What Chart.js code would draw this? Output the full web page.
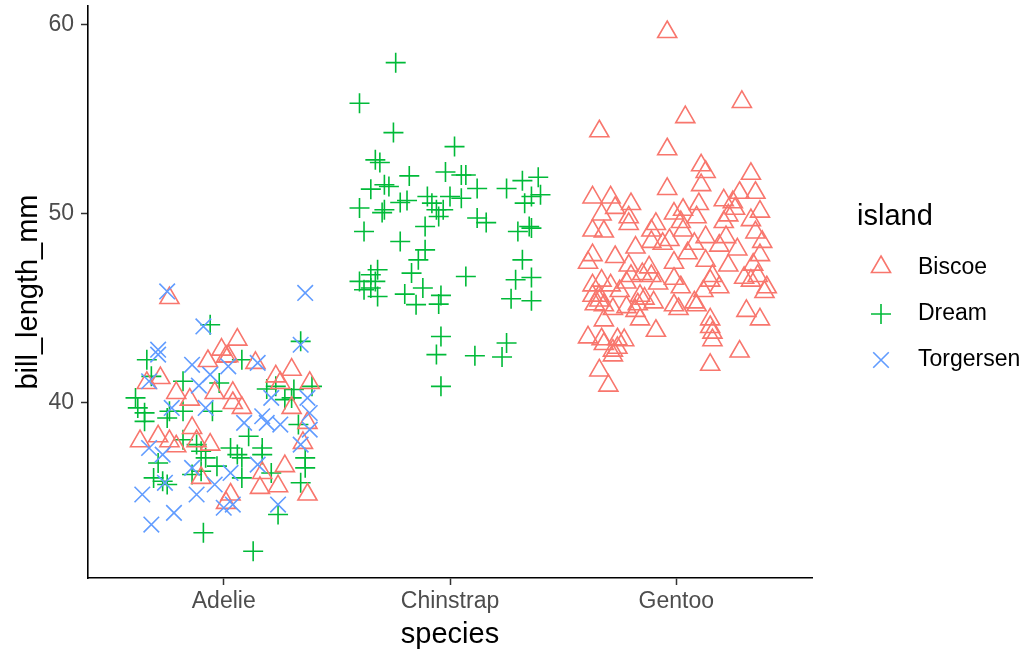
<!DOCTYPE html>
<html>
<head>
<meta charset="utf-8">
<script src="https://cdn.jsdelivr.net/npm/chart.js@4.4.1/dist/chart.umd.min.js"></script>
<style>
  html, body { margin: 0; padding: 0; background: #fff; }
  canvas { display: block; }
</style>
</head>
<body>
<canvas id="chart" width="1030" height="653"></canvas>
<script>
const species = ['Adelie', 'Chinstrap', 'Gentoo'];
const islands = ['Biscoe', 'Dream', 'Torgersen'];
const yTicks = [40, 50, 60];

// [jitter offset from species position, bill_length_mm]
const adelieBiscoe = [
  [-0.24,45.53],[-0.01,42.8],[-0.28,41.3],[-0.34,41.04],[-0.21,40.51],[-0.15,40.16],[-0.04,40.51],
  [0.06,43.33],[0.14,42.1],[0.01,42.43],[0.23,41.39],[0.30,41.74],[0.38,41.04],[0.25,41.04],
  [0.04,40.51],[0.04,39.98],[0.08,39.72],[0.30,39.72],[-0.37,37.96],[-0.29,38.22],[-0.24,37.96],
  [-0.21,37.69],[-0.14,38.66],[-0.12,37.96],[-0.06,37.78],[-0.10,36.02],[0.01,34.7],[0.37,38.93],
  [0.35,37.87],[0.27,36.64],[0.17,36.28],[0.16,35.49],[0.24,35.58],[0.37,35.14],[0.03,35.14],
  [0.02,42.45],[-0.07,42.2]
];
const adelieDream = [
  [-0.06,44.12],[-0.34,42.27],[-0.32,41.39],[-0.18,41.13],[-0.02,41.04],[-0.39,40.25],[-0.38,39.72],
  [-0.35,39.46],[-0.24,39.54],[-0.18,39.54],[-0.05,39.54],[0.34,43.24],[0.08,42.27],[0.39,40.86],
  [0.23,40.86],[0.19,40.72],[0.31,40.69],[0.30,40.25],[0.27,40.16],[-0.35,39.01],[-0.25,39.19],
  [-0.18,38.04],[-0.12,37.78],[-0.10,37.43],[-0.08,37.08],[-0.03,36.64],[-0.29,36.81],[-0.31,36.02],
  [-0.27,35.84],[-0.25,35.67],[-0.14,36.2],[-0.10,36.37],[-0.09,33.12],[0.33,38.84],[0.11,38.22],
  [0.03,37.6],[0.06,37.25],[0.08,37.08],[0.17,37.6],[0.17,37.25],[0.36,37.08],[0.36,36.55],
  [0.21,36.28],[0.08,36.02],[0.34,35.76],[0.24,34.08],[0.13,32.14]
];
const adelieTorgersen = [
  [-0.25,45.88],[-0.09,44.03],[-0.29,42.8],[-0.29,42.54],[-0.14,42.0],[-0.06,41.48],[-0.33,41.13],
  [-0.11,40.9],[-0.23,39.72],[-0.08,39.72],[0.36,45.8],[0.34,43.06],[0.15,42.1],[0.02,41.92],
  [0.21,40.25],[0.37,40.25],[0.38,39.45],[0.17,39.28],[-0.33,37.6],[-0.27,37.25],[-0.26,35.76],
  [-0.14,36.55],[-0.04,35.67],[-0.12,35.14],[-0.36,35.14],[-0.22,34.17],[-0.32,33.55],[0.0,34.44],
  [0.09,38.93],[0.19,38.93],[0.25,38.84],[0.38,38.57],[0.34,37.78],[0.15,36.72],[0.03,36.28],
  [0.24,34.61],[0.04,34.61]
];
const chinstrapDream = [
  [-0.24,57.98],[-0.40,55.83],[-0.25,54.28],[0.02,53.54],[-0.33,52.84],[-0.31,52.7],[-0.18,51.99],
  [-0.02,52.2],[0.05,52.04],[0.07,52.04],[0.12,51.32],[0.25,51.32],[0.32,51.74],[0.39,51.92],
  [0.40,50.99],[0.36,50.9],[0.33,50.55],[-0.35,51.29],[-0.29,51.52],[-0.27,51.43],[-0.40,50.29],
  [-0.30,50.05],[-0.29,50.2],[-0.22,50.58],[-0.19,50.69],[-0.10,50.9],[-0.08,50.55],[0.0,50.9],
  [0.05,50.81],[-0.06,50.2],[-0.03,50.2],[-0.05,49.84],[0.12,49.76],[0.16,49.52],[-0.11,49.31],
  [0.35,49.31],[-0.38,49.05],[0.30,49.05],[0.36,49.23],[-0.22,48.52],[-0.11,48.08],[-0.14,47.55],
  [0.32,47.55],[-0.32,47.03],[-0.35,46.76],[-0.17,46.85],[0.07,46.67],[0.29,46.5],[0.36,46.62],
  [-0.40,46.41],[-0.33,46.41],[-0.38,45.97],[-0.35,46.06],[-0.32,45.61],[-0.12,46.06],[-0.20,45.74],
  [-0.04,45.67],[-0.15,45.18],[-0.05,45.21],[0.27,45.49],[0.36,45.39],[-0.04,43.5],[0.25,43.15],
  [-0.06,42.54],[0.11,42.48],[0.23,42.41],[-0.04,40.86]
];
const gentooBiscoe = [
  [-0.04,59.6],[0.29,55.9],[0.04,55.1],[-0.34,54.35],[-0.04,53.4],[0.11,52.55],[0.13,52.2],
  [0.33,52.1],[-0.04,51.3],[0.11,51.5],[-0.37,50.85],[-0.29,50.85],[-0.20,50.5],[-0.27,50.3],
  [-0.33,49.95],[-0.21,49.8],[-0.21,49.45],[-0.01,50.0],[0.03,50.2],[0.10,50.5],[0.21,50.7],
  [0.28,51.1],[0.35,51.1],[0.25,50.6],[0.26,50.25],[0.37,50.1],[0.33,49.65],[0.23,49.9],
  [0.09,49.8],[0.02,49.55],[-0.09,49.45],[-0.11,49.1],[0.21,49.55],[0.35,49.0],[-0.37,49.1],
  [-0.32,49.05],[0.03,49.1],[0.13,48.75],[0.22,48.75],[0.38,48.5],[-0.18,48.2],[-0.11,48.5],
  [-0.03,48.6],[0.08,48.4],[0.19,48.3],[-0.06,48.4],[-0.37,47.8],[-0.27,47.7],[0.37,47.8],
  [-0.39,47.4],[-0.01,47.4],[0.13,47.5],[0.23,47.25],[0.34,47.3],[-0.21,47.25],[-0.12,47.15],
  [-0.15,46.8],[-0.11,46.7],[-0.20,46.7],[-0.22,46.35],[-0.33,46.45],[-0.29,46.2],[-0.37,46.2],
  [-0.01,46.55],[0.02,46.1],[0.16,46.7],[0.15,46.45],[0.19,46.1],[0.30,46.6],[0.33,46.45],
  [0.36,46.7],[0.40,46.1],[0.39,45.85],[-0.37,45.65],[-0.34,45.65],[-0.36,45.2],[-0.32,45.15],
  [-0.28,44.95],[-0.34,45.4],[-0.22,45.05],[-0.17,45.2],[-0.16,45.65],[-0.14,45.5],[-0.10,45.3],
  [-0.18,44.85],[-0.16,44.4],[-0.32,44.35],[-0.01,45.15],[0.01,44.95],[0.08,45.3],[0.09,45.15],
  [-0.09,43.8],[0.15,44.4],[0.15,44.0],[0.16,43.7],[0.16,43.3],[0.31,44.85],[0.37,44.4],
  [0.28,42.7],[0.15,42.0],[-0.39,43.45],[-0.33,43.35],[-0.26,43.35],[-0.23,43.3],[-0.32,43.1],
  [-0.28,42.75],[-0.26,42.9],[-0.28,42.5],[-0.34,41.7],[-0.30,40.9],[-0.25,45.9],[0.05,47.9],
  [0.27,48.1],[-0.08,46.3],[0.12,45.9]
];

const colors = { Biscoe: '#F8766D', Dream: '#00BA38', Torgersen: '#619CFF' };
const shapes = { Biscoe: 'triangle', Dream: 'cross', Torgersen: 'crossRot' };
const radii = { Biscoe: 11, Dream: 10, Torgersen: 11 };

function toPoints(arr, sp) {
  const pos = species.indexOf(sp) + 1;
  return arr.map(d => ({ x: pos + d[0], y: d[1] }));
}

function makeSet(island, points) {
  return {
    label: island,
    data: points,
    pointStyle: shapes[island],
    pointRadius: radii[island],
    pointHoverRadius: radii[island],
    borderColor: colors[island],
    backgroundColor: 'rgba(0,0,0,0)',
    pointBorderWidth: 1.6,
    showLine: false
  };
}

const FONT = "'Liberation Sans', Arial, sans-serif";

// legend drawn at the right like ggplot's
const legendPlugin = {
  id: 'islandLegend',
  afterDraw(chart) {
    const ctx = chart.ctx;
    ctx.save();
    ctx.fillStyle = '#000';
    ctx.font = '29px ' + FONT;
    ctx.textAlign = 'left';
    ctx.textBaseline = 'middle';
    ctx.fillText('island', 857, 217);
    const rows = [268, 314, 360];
    islands.forEach((isl, k) => {
      ctx.strokeStyle = colors[isl];
      ctx.fillStyle = 'rgba(0,0,0,0)';
      ctx.lineWidth = 1.6;
      const ky = isl === 'Biscoe' ? rows[k] - 1 : rows[k];
      Chart.helpers.drawPoint(ctx, { pointStyle: shapes[isl], radius: radii[isl], rotation: 0, borderWidth: 1.6 }, 881, ky);
      ctx.fillStyle = '#000';
      ctx.font = '23px ' + FONT;
      ctx.fillText(isl, 918, rows[k]);
    });
    ctx.restore();
  }
};

new Chart(document.getElementById('chart'), {
  type: 'scatter',
  data: {
    datasets: [
      makeSet('Torgersen', toPoints(adelieTorgersen, 'Adelie')),
      makeSet('Biscoe', toPoints(adelieBiscoe, 'Adelie')),
      makeSet('Dream', toPoints(adelieDream, 'Adelie')),
      makeSet('Biscoe', toPoints(gentooBiscoe, 'Gentoo')),
      makeSet('Dream', toPoints(chinstrapDream, 'Chinstrap'))
    ]
  },
  options: {
    responsive: false,
    animation: false,
    devicePixelRatio: 1,
    layout: { autoPadding: false, padding: { left: 0, top: 6, right: 218, bottom: 0 } },
    plugins: { legend: { display: false }, tooltip: { enabled: false } },
    scales: {
      x: {
        type: 'linear',
        min: 0.4,
        max: 3.6,
        afterBuildTicks: s => { s.ticks = species.map((n, i) => ({ value: i + 1 })); },
        afterFit: s => { s.height = 75; s.paddingLeft = 0; s.paddingRight = 0; },
        ticks: {
          callback: v => species[v - 1],
          color: '#4d4d4d',
          font: { family: FONT, size: 23 },
          padding: 3,
          maxRotation: 0
        },
        grid: { display: true, drawOnChartArea: false, drawTicks: true, tickLength: 7, tickWidth: 1.5, tickColor: '#333' },
        border: { display: true, color: '#000', width: 1.6 },
        title: { display: true, text: 'species', color: '#000', font: { family: FONT, size: 29 }, padding: { top: 0, bottom: 1 } }
      },
      y: {
        min: 30.725,
        max: 60.975,
        afterBuildTicks: s => { s.ticks = yTicks.map(v => ({ value: v })); },
        afterFit: s => { s.width = 88; s.paddingTop = 0; s.paddingBottom = 0; },
        ticks: {
          color: '#4d4d4d',
          font: { family: FONT, size: 23 },
          padding: 7
        },
        grid: { display: true, drawOnChartArea: false, drawTicks: true, tickLength: 7, tickWidth: 1.5, tickColor: '#333' },
        border: { display: true, color: '#000', width: 1.6 },
        title: { display: true, text: 'bill_length_mm', color: '#000', font: { family: FONT, size: 29 }, padding: { top: 12, bottom: 0 } }
      }
    }
  },
  plugins: [legendPlugin]
});
</script>
</body>
</html>
